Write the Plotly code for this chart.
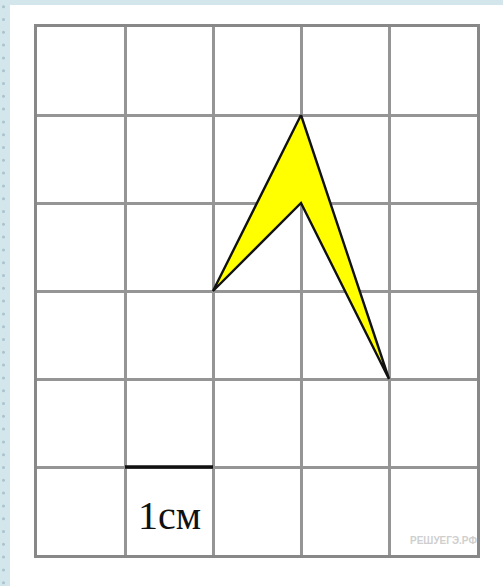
import plotly.graph_objects as go

# Grid size (cells)
n_cols = 5
n_rows = 6

# Figure vertices (grid units)
shape_x = [3, 2, 3, 4, 3]
shape_y = [5, 3, 4, 2, 5]

# Scale bar (1 cm = 1 cell)
bar_x = [1, 2]
bar_y = [1, 1]
bar_label = "1см"
watermark = "РЕШУЕГЭ.РФ"

W, H = 503, 586
L, R, T, B = 37, 26, 27, 31

fig = go.Figure()

fig.add_trace(go.Scatter(
    x=shape_x, y=shape_y, mode="lines", fill="toself",
    fillcolor="#ffff00", line=dict(color="#111111", width=2.4),
    hoverinfo="skip", showlegend=False,
))
fig.add_trace(go.Scatter(
    x=bar_x, y=bar_y, mode="lines",
    line=dict(color="#111111", width=3.5),
    hoverinfo="skip", showlegend=False,
))

fig.add_annotation(x=(bar_x[0] + bar_x[1]) / 2, y=0.45, text=bar_label,
                   showarrow=False, xref="x", yref="y",
                   font=dict(family="Liberation Serif", size=40, color="#111111"))
fig.add_annotation(x=4.62, y=0.17, text="<b>" + watermark + "</b>",
                   showarrow=False, xref="x", yref="y",
                   font=dict(family="Liberation Sans", size=10, color="#cfcfcf"))

pw = W - L - R
ph = H - T - B
# white panel
fig.add_shape(type="rect", xref="paper", yref="paper", layer="below",
              x0=(10 - L) / pw, x1=(W - L) / pw,
              y0=-(B) / ph, y1=(H - B - 5) / ph,
              fillcolor="white", line=dict(width=0))
# decorative dots on the left strip
py = 6.7
while py < H:
    fig.add_shape(type="circle", xref="paper", yref="paper", layer="below",
                  x0=(2 - L) / pw, x1=(5 - L) / pw,
                  y0=(H - B - py - 1.5) / ph, y1=(H - B - py + 1.5) / ph,
                  fillcolor="#aac3cc", line=dict(width=0))
    py += 12.8

fig.update_layout(
    width=W, height=H,
    margin=dict(l=L, r=R, t=T, b=B),
    paper_bgcolor="#d3e6ec",
    plot_bgcolor="rgba(0,0,0,0)",
    showlegend=False,
)
fig.update_xaxes(range=[0, n_cols], dtick=1, showgrid=True, gridcolor="#959595",
                 gridwidth=2.5, zeroline=False, showticklabels=False, ticks="",
                 showline=True, linecolor="#888888", linewidth=3, mirror=True,
                 fixedrange=True)
fig.update_yaxes(range=[0, n_rows], dtick=1, showgrid=True, gridcolor="#959595",
                 gridwidth=2.5, zeroline=False, showticklabels=False, ticks="",
                 showline=True, linecolor="#888888", linewidth=3, mirror=True,
                 fixedrange=True)

fig.write_html("out.html", config={"displayModeBar": False},
               post_script="document.body.style.margin='0';")
